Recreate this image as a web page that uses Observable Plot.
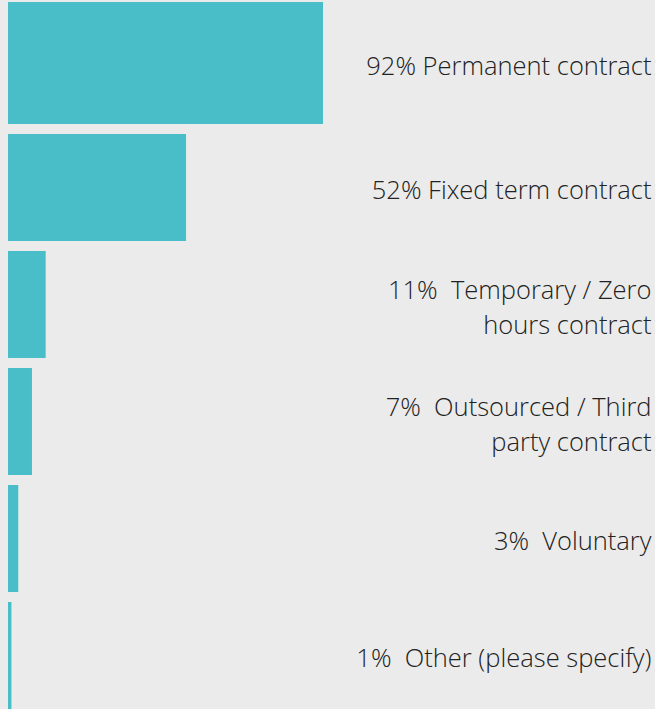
<!DOCTYPE html>
<html>
<head>
<meta charset="utf-8">
<script src="https://cdn.jsdelivr.net/npm/d3@7"></script>
<script src="https://cdn.jsdelivr.net/npm/@observablehq/plot@0.6"></script>
<style>
  html, body { margin: 0; padding: 0; background: #ebebeb; overflow: hidden; }
</style>
</head>
<body>
<div id="chart"></div>
<script>
const categories = [
  "Permanent contract",
  "Fixed term contract",
  "Temporary / Zero hours contract",
  "Outsourced / Third party contract",
  "Voluntary",
  "Other (please specify)"
];
const values = [92, 52, 11, 7, 3, 1];
const labels = [
  "92% Permanent contract",
  "52% Fixed term contract",
  "11%  Temporary / Zero\nhours contract",
  "7%  Outsourced / Third\nparty contract",
  "3%  Voluntary",
  "1%  Other (please specify)"
];

const data = categories.map((c, i) => ({category: c, value: values[i], label: labels[i], first: i === 0}));

const textOpts = {
  y: "category",
  text: "label",
  frameAnchor: "right",
  textAnchor: "end",
  lineAnchor: "middle",
  lineHeight: 1.37,
  fontSize: 25.5,
  fontWeight: 300,
  fill: "#222222"
};

const chart = Plot.plot({
  width: 655,
  height: 709,
  marginLeft: 8,
  marginRight: 4,
  marginTop: 0,
  marginBottom: 0,
  style: {background: "#ebebeb", fontFamily: "'Open Sans', sans-serif", overflow: "hidden"},
  x: {domain: [0, 92], range: [8, 323], axis: null},
  y: {domain: categories, range: [16.75, 710], paddingInner: 0.0874, paddingOuter: 0, axis: null},
  marks: [
    Plot.barX(data.filter(d => !d.first), {x: "value", y: "category", fill: "#49bec9"}),
    Plot.barX(data.filter(d => d.first), {x: "value", y: "category", fill: "#49bec9", insetTop: -15, insetBottom: 0}),
    Plot.text(data.filter(d => !d.first), textOpts),
    Plot.text(data.filter(d => d.first), {...textOpts, dy: -7})
  ]
});
document.getElementById("chart").appendChild(chart);
</script>
</body>
</html>
